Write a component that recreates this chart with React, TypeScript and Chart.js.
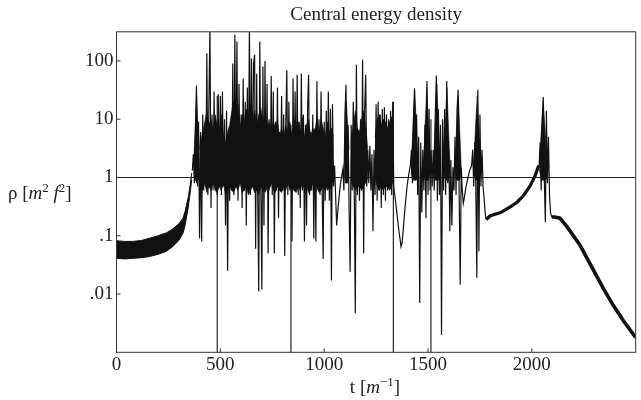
import React, { useEffect, useRef } from "react";
import { Chart, registerables } from "chart.js";

Chart.register(...registerables);

const X_MIN = 0;
const X_MAX = 2500;
const Y_MIN = 0.001;
const Y_MAX = 316;
const X_TICKS = [0, 500, 1000, 1500, 2000];
const X_TICK_LABELS = ["0", "500", "1000", "1500", "2000"];
const Y_TICKS = [0.01, 0.1, 1, 10, 100];
const Y_TICK_LABELS = [".01", ".1", "1", "10", "100"];

// early, smooth but fast oscillation: envelope of the band
const EARLY_T = [0, 40, 80, 120, 160, 200, 240, 270, 300, 320, 330, 345, 355, 362];
const EARLY_UPPER = [0.082, 0.08, 0.08, 0.083, 0.091, 0.1, 0.112, 0.13, 0.16, 0.2, 0.26, 0.45, 0.75, 1.2];
const EARLY_LOWER = [0.041, 0.04, 0.041, 0.042, 0.044, 0.048, 0.054, 0.065, 0.083, 0.11, 0.15, 0.3, 0.55, 0.9];

// chaotic phase, individual excursions sampled every 5 time units from t = 365
const CHAOS_T0 = 365;
const CHAOS_DT = 5;
const CHAOS_RHO = [
  1.3, 2.5, 0.8, 7, 38, 0.7, 9, 0.09, 6, 0.08,
  12, 0.6, 8, 0.7, 136, 0.5, 20, 400, 0.3, 12,
  0.6, 30, 0.7, 6, 0.5, 27, 0.8, 25, 0.5, 30,
  0.7, 10, 0.15, 14, 0.025, 6, 0.4, 8, 0.6, 90,
  0.5, 280, 0.7, 216, 0.4, 40, 0.8, 12, 0.3, 50,
  0.6, 20, 0.15, 35, 0.7, 400, 0.5, 110, 0.7, 90,
  128, 0.06, 60, 0.5, 0.011, 216, 0.6, 0.012, 80, 0.15,
  100, 0.6, 40, 0.05, 8, 0.7, 55, 0.5, 30, 0.05,
  9, 0.6, 35, 0.2, 6, 0.7, 25, 0.6, 12, 0.045,
  8, 69, 0.5, 20, 0.7, 6, 0.08, 50, 0.6, 30,
  0.6, 58, 0.5, 9, 0.3, 61, 0.6, 12, 0.08, 8,
  0.15, 15, 58, 0.5, 6, 0.6, 12, 0.09, 7, 0.08,
  45, 0.6, 10, 0.5, 30, 0.7, 0.04, 9, 0.4, 14,
  0.6, 30, 0.4, 15, 0.017, 18, 0.7, 1.6, 0.5, 0.15,
  0.25, 0.4, 0.6, 0.85, 1.1, 1.4, 0.6, 12, 39, 0.8,
  8, 0.3, 0.024, 8, 0.6, 20, 0.5, 0.0047, 86, 0.5,
  6, 0.4, 10, 0.6, 105, 0.05, 15, 58, 0.7, 3,
  0.8, 3.5, 0.6, 2.5, 0.12, 3, 0.5, 18, 0.4, 20,
  0.6, 12, 0.3, 15, 0.5, 16, 0.4, 12, 0.6, 10,
  0.7, 14, 0.5, 20, 0.7, 0.5, 0.35, 0.25, 0.17, 0.12,
  0.09, 0.065, 0.075, 0.12, 0.2, 0.32, 0.5, 0.75, 1.0, 1.3,
  1.6, 3, 0.8, 10, 34, 0.9, 12, 0.5, 5, 0.007,
  4, 0.25, 3, 0.6, 8, 0.2, 45, 0.5, 15, 0.6,
  3, 0.7, 3, 0.6, 12, 56, 0.4, 15, 0.5, 8,
  0.002, 10, 0.6, 15, 0.5, 45, 0.8, 3, 0.12, 2,
  0.15, 1.5, 0.6, 5, 0.5, 15, 32, 0.5, 0.0144, 1.5,
  0.6, 0.36, 0.45, 0.6, 0.75, 0.9, 1.1, 1.3, 1.45, 1.6,
  3, 0.7, 4, 0.8, 0.019, 32, 0.054, 12, 0.7, 3,
  0.7, 0.45, 0.25, 0.19,
];

// envelope of the unresolved (solid black) oscillation; null separates bursts
const CORE_T = [
  372, 380, 386, 392, 400, null,
  405, 415, 425, 435, 445, 455, 465, 475, 485, 495,
  505, 515, 525, 535, 545, 555, 565, 575, 585, 595,
  605, 615, 625, 635, 645, 655, 665, 675, 685, 695,
  705, 715, 725, 735, 745, 755, 765, 775, 785, 795,
  805, 815, 825, 835, 845, 855, 865, 875, 885, 895,
  905, 915, 925, 935, 945, 955, 965, 975, 985, 995,
  1005, 1015, 1025, 1035, 1045, null,
  1097, 1102, 1107, 1113, 1120, null,
  1130, 1140, 1150, 1160, 1170, 1180, 1190, 1200, 1210, null,
  1245, 1255, 1265, 1275, 1285, 1295, 1305, 1315, 1325, 1335, null,
  1418, 1428, 1436, 1444, 1452, null,
  1478, 1486, 1494, 1502, 1510, null,
  1526, 1535, 1543, 1550, 1558, null,
  1576, 1584, 1591, 1598, 1606, null,
  1630, 1638, 1646, 1653, 1660, null,
  1720, 1729, 1737, 1745, 1755, null,
  2036, 2045, 2055, 2064, 2074,
];
const CORE_UP = [
  2, 8, 25, 8, 3, null,
  4, 6, 9, 14, 8, 10, 6, 12, 8, 6,
  12, 5, 4, 6, 8, 14, 20, 12, 18, 7,
  12, 9, 15, 10, 18, 9, 14, 8, 12, 16,
  9, 14, 7, 10, 6, 9, 7, 10, 5, 7,
  5, 8, 6, 9, 5, 10, 7, 9, 6, 11,
  5, 8, 10, 5, 7, 6, 11, 6, 10, 7,
  5, 9, 6, 7, 5, null,
  1.5, 10, 20, 8, 3, null,
  4, 8, 14, 7, 6, 10, 14, 8, 3, null,
  5, 10, 12, 8, 10, 9, 7, 9, 11, 4, null,
  1.5, 8, 30, 8, 1.5, null,
  1.5, 8, 35, 8, 1.5, null,
  1.5, 10, 40, 8, 1.5, null,
  1.5, 8, 35, 8, 1.5, null,
  1.5, 8, 25, 6, 1.5, null,
  1.5, 8, 25, 6, 1.5, null,
  1.6, 6, 20, 6, 1.2,
];
const CORE_LO = [
  1.2, 0.9, 0.8, 0.9, 1, null,
  0.7, 0.6, 0.8, 0.55, 0.7, 0.6, 0.8, 0.6, 0.55, 0.7,
  0.6, 0.8, 0.5, 0.6, 0.7, 0.6, 0.55, 0.7, 0.6, 0.8,
  0.55, 0.6, 0.7, 0.5, 0.6, 0.7, 0.55, 0.6, 0.5, 0.7,
  0.6, 0.55, 0.7, 0.6, 0.8, 0.6, 0.55, 0.7, 0.6, 0.55,
  0.7, 0.6, 0.8, 0.6, 0.7, 0.6, 0.55, 0.7, 0.6, 0.8,
  0.6, 0.7, 0.55, 0.6, 0.8, 0.6, 0.7, 0.55, 0.6, 0.7,
  0.6, 0.7, 0.6, 0.7, 0.9, null,
  1.2, 0.8, 0.8, 0.8, 1, null,
  0.9, 0.7, 0.6, 0.7, 0.7, 0.6, 0.7, 0.8, 1, null,
  1, 0.7, 0.6, 0.7, 0.6, 0.7, 0.7, 0.6, 0.7, 1, null,
  1.2, 0.9, 0.9, 0.9, 1.2, null,
  1.2, 0.9, 0.9, 0.9, 1.2, null,
  1.2, 0.9, 0.9, 0.9, 1.2, null,
  1.2, 0.9, 0.9, 0.9, 1.2, null,
  1.2, 0.9, 0.9, 0.9, 1.2, null,
  1.2, 0.9, 0.9, 0.9, 1.2, null,
  1.4, 0.9, 0.9, 0.9, 1,
];

// near-zero crossings that drop out of the plot
const DROP_T = [485, 840, 1333, 1514];
const DROP_TOP = [25, 8, 20, 10];
const DROP_BOTTOM = 0.000001;

// quiet rise after the chaotic phase
const RISE_T = [1780, 1800, 1850, 1900, 1930, 1960, 1990, 2015, 2030, 2035];
const RISE_RHO = [0.19, 0.22, 0.25, 0.32, 0.38, 0.49, 0.7, 1.05, 1.5, 1.6];

// last burst
const BURST_T0 = 2035;
const BURST_DT = 5;
const BURST_RHO = [1.6, 4, 0.6, 10, 24, 0.9, 0.17, 14, 0.8, 5, 0.5, 0.25, 0.21];

// decay
const TAIL_T = [2095, 2110, 2135, 2168, 2200, 2232, 2264, 2296, 2344, 2392, 2440, 2490, 2500];
const TAIL_RHO = [0.21, 0.21, 0.2, 0.145, 0.1, 0.069, 0.042, 0.026, 0.0125, 0.0064, 0.0035, 0.002, 0.0018];

const FONT = "'Liberation Serif', 'Times New Roman', serif";
const INK = "#111";

export default function App() {
  const ref = useRef<HTMLCanvasElement>(null);

  useEffect(() => {
    if (!ref.current) return;
    const pair = (ts: number[], vs: number[]) => ts.map((t, i) => ({ x: t, y: vs[i] }));
    const chaos = CHAOS_RHO.map((v, i) => ({ x: CHAOS_T0 + i * CHAOS_DT, y: v }));
    const burst = BURST_RHO.map((v, i) => ({ x: BURST_T0 + i * BURST_DT, y: v }));
    const drops: { x: number; y: number | null }[] = [];
    DROP_T.forEach((t, i) => {
      drops.push({ x: t, y: DROP_TOP[i] }, { x: t, y: DROP_BOTTOM }, { x: t, y: null });
    });

    const base = { pointRadius: 0, tension: 0, borderColor: INK, backgroundColor: INK };

    // split core envelope into segments, one filled band per segment
    const coreSets: any[] = [];
    let up: { x: number; y: number }[] = [];
    let lo: { x: number; y: number }[] = [];
    const flush = () => {
      if (up.length) {
        coreSets.push({ ...base, label: "core up", data: up, borderWidth: 0.6, fill: "+1" });
        coreSets.push({ ...base, label: "core lo", data: lo, borderWidth: 0.6, fill: false });
      }
      up = [];
      lo = [];
    };
    CORE_T.forEach((t, i) => {
      if (t === null) {
        flush();
        return;
      }
      up.push({ x: t, y: CORE_UP[i] as number });
      lo.push({ x: t, y: CORE_LO[i] as number });
    });
    flush();

    const framePlugin = {
      id: "frameAndTicks",
      afterDatasetsDraw(chart: any) {
        const { ctx, chartArea: a, scales } = chart;
        ctx.save();
        ctx.strokeStyle = "#333";
        ctx.lineWidth = 1;
        ctx.strokeRect(a.left, a.top, a.right - a.left, a.bottom - a.top);
        ctx.beginPath();
        Y_TICKS.forEach((v) => {
          const p = scales.y.getPixelForValue(v);
          ctx.moveTo(a.left, p);
          ctx.lineTo(a.left + 4, p);
        });
        X_TICKS.forEach((v) => {
          const p = scales.x.getPixelForValue(v);
          ctx.moveTo(p, a.bottom);
          ctx.lineTo(p, a.bottom - 4);
        });
        ctx.stroke();
        ctx.restore();
      },
    };

    const chart = new Chart(ref.current, {
      type: "line",
      data: {
        datasets: [
          { ...base, label: "early upper", data: pair(EARLY_T, EARLY_UPPER), borderWidth: 1, fill: "+1" },
          { ...base, label: "early lower", data: pair(EARLY_T, EARLY_LOWER), borderWidth: 1, fill: false },
          ...coreSets,
          { ...base, label: "chaos", data: chaos, borderWidth: 1.2, fill: false },
          { ...base, label: "drops", data: drops as any, borderWidth: 1.1, fill: false, spanGaps: false },
          { ...base, label: "rise", data: pair(RISE_T, RISE_RHO), borderWidth: 3.2, fill: false },
          { ...base, label: "burst", data: burst, borderWidth: 1.2, fill: false },
          { ...base, label: "tail", data: pair(TAIL_T, TAIL_RHO), borderWidth: 3.6, fill: false },
        ],
      },
      options: {
        animation: false,
        responsive: false,
        events: [],
        layout: { padding: { left: 0, right: 5.3, top: 0, bottom: 0 } },
        plugins: {
          legend: { display: false },
          tooltip: { enabled: false },
          title: {
            display: true,
            text: "Central energy density",
            fullSize: false,
            color: "#222",
            font: { family: FONT, size: 19, weight: "normal", lineHeight: 1.2 },
            padding: { top: 4, bottom: 5 },
          },
        },
        scales: {
          x: {
            type: "linear",
            min: X_MIN,
            max: X_MAX,
            afterBuildTicks: (s: any) => {
              s.ticks = X_TICKS.map((v) => ({ value: v }));
            },
            afterFit: (s: any) => {
              s.height = 47.7;
            },
            ticks: {
              autoSkip: false,
              maxRotation: 0,
              padding: 1,
              color: "#222",
              font: { family: FONT, size: 19 },
              callback: (_v: any, i: number) => X_TICK_LABELS[i],
            },
            grid: { display: false, drawTicks: false },
            border: { display: false },
          },
          y: {
            type: "logarithmic",
            min: Y_MIN,
            max: Y_MAX,
            afterBuildTicks: (s: any) => {
              s.ticks = Y_TICKS.map((v) => ({ value: v }));
            },
            afterFit: (s: any) => {
              s.width = 116.5;
            },
            ticks: {
              autoSkip: false,
              padding: 3,
              color: "#222",
              font: { family: FONT, size: 19 },
              callback: (_v: any, i: number) => Y_TICK_LABELS[i],
            },
            grid: {
              drawTicks: false,
              lineWidth: 1,
              color: (c: any) => (c.tick && c.tick.value === 1 ? "#222" : "rgba(0,0,0,0)"),
            },
            border: { display: false },
          },
        },
      } as any,
      plugins: [framePlugin],
    });
    return () => chart.destroy();
  }, []);

  const labelStyle: React.CSSProperties = {
    position: "absolute",
    fontFamily: FONT,
    fontSize: 19,
    lineHeight: "19px",
    color: "#222",
    whiteSpace: "nowrap",
  };
  const sup: React.CSSProperties = { fontSize: 13, position: "relative", top: -7 };

  return (
    <div style={{ position: "fixed", left: 0, top: 0, width: 641, height: 400, background: "#fff" }}>
      <canvas ref={ref} width={641} height={400} style={{ display: "block" }} />
      <div style={{ ...labelStyle, left: 8, top: 183 }}>
        ρ [<i>m</i>
        <span style={sup}>2</span> <i>f</i>
        <span style={sup}>2</span>]
      </div>
      <div style={{ ...labelStyle, left: 375, top: 377, transform: "translateX(-50%)" }}>
        t [<i>m</i>
        <span style={sup}>−1</span>]
      </div>
    </div>
  );
}
